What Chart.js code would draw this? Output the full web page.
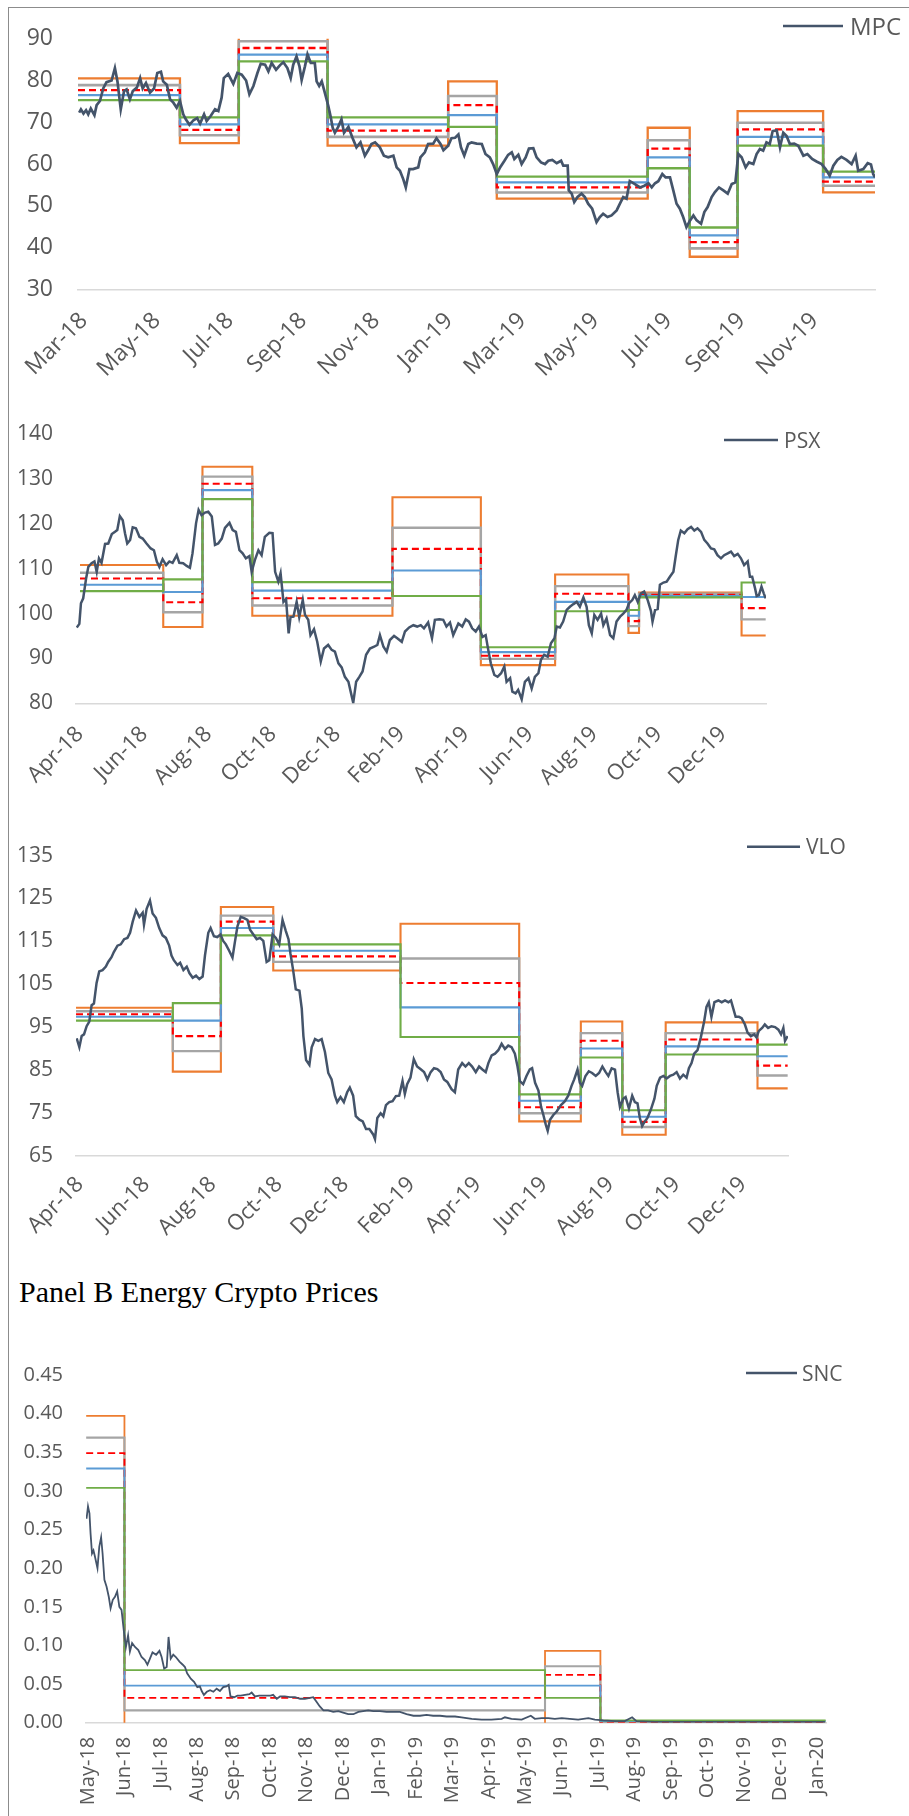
<!DOCTYPE html>
<html>
<head>
<meta charset="utf-8">
<script src="https://cdn.jsdelivr.net/npm/chart.js@4.4.1/dist/chart.umd.min.js"></script>
<style>
body { margin: 0; background: #fff; }
#page { position: relative; width: 909px; height: 1816px; overflow: hidden; background: #fff; }
#frame { position: absolute; left: 8px; top: 7px; width: 940px; height: 1850px; border-left: 1px solid #8c8c8c; border-top: 1px solid #8c8c8c; }
canvas { position: absolute; left: 0; }
#title { position: absolute; left: 19px; top: 1275px; font-family: "Liberation Serif", "Times New Roman", serif; font-size: 30px; line-height: 34px; color: #000; white-space: nowrap; }
</style>
</head>
<body>
<div id="page">
  <div id="frame"></div>
  <canvas id="mpc" width="909" height="380" style="top:0px"></canvas>
  <canvas id="psx" width="909" height="410" style="top:380px"></canvas>
  <canvas id="vlo" width="909" height="440" style="top:820px"></canvas>
  <div id="title">Panel B Energy Crypto Prices</div>
  <canvas id="snc" width="909" height="486" style="top:1330px"></canvas>
</div>
<script>
// x values are months counted from Jan 2018 (2 = 1 Mar 2018)

// ---------- MPC ----------
const mpcPrice = [[1.87,72.3],[1.92,73.1],[1.99,72.1],[2.06,72.9],[2.12,71.9],[2.19,73.3],[2.29,71.7],[2.35,74.1],[2.44,75.1],[2.53,78.1],[2.62,79.6],[2.76,80.0],[2.85,83.0],[2.92,79.8],[3.01,73.1],[3.10,77.5],[3.17,77.9],[3.26,75.5],[3.34,77.5],[3.45,78.3],[3.54,80.6],[3.61,78.1],[3.70,79.4],[3.81,77.1],[3.92,78.1],[4.01,81.8],[4.11,82.1],[4.17,79.8],[4.27,79.0],[4.36,75.5],[4.45,74.7],[4.54,73.5],[4.63,75.1],[4.72,71.9],[4.79,70.7],[4.89,69.4],[5.00,70.5],[5.10,71.0],[5.18,69.7],[5.29,71.9],[5.36,70.3],[5.47,71.5],[5.59,73.1],[5.68,72.7],[5.77,75.9],[5.83,80.6],[5.95,81.6],[6.09,79.2],[6.20,81.8],[6.32,81.4],[6.44,80.0],[6.53,76.7],[6.64,78.7],[6.75,81.8],[6.84,84.0],[6.96,83.8],[7.05,82.2],[7.14,84.2],[7.26,82.6],[7.37,83.7],[7.46,84.4],[7.57,83.0],[7.66,80.6],[7.73,83.8],[7.82,85.8],[7.90,83.4],[7.96,80.1],[8.05,83.4],[8.12,86.3],[8.21,84.2],[8.32,84.2],[8.37,79.8],[8.44,78.7],[8.51,79.8],[8.57,77.9],[8.63,75.9],[8.69,73.9],[8.75,71.5],[8.81,68.7],[8.87,67.5],[8.96,68.9],[9.05,70.7],[9.12,67.5],[9.24,68.9],[9.35,66.3],[9.46,64.0],[9.57,65.2],[9.69,62.0],[9.78,63.3],[9.87,64.8],[9.97,65.2],[10.10,64.0],[10.21,62.0],[10.33,61.6],[10.47,62.0],[10.56,59.2],[10.65,58.4],[10.74,56.4],[10.81,54.4],[10.91,58.8],[11.01,58.8],[11.15,59.2],[11.21,61.6],[11.33,62.8],[11.42,64.8],[11.56,64.9],[11.65,66.2],[11.76,64.8],[11.84,63.3],[11.97,64.4],[12.06,66.2],
  [12.16,66.3],[12.25,67.1],[12.32,64.0],[12.41,62.0],[12.52,64.8],[12.61,65.2],[12.75,64.9],[12.89,64.8],[12.99,62.4],[13.11,61.6],[13.20,60.0],[13.30,57.6],[13.39,59.2],[13.51,60.8],[13.61,62.2],[13.71,62.8],[13.78,61.2],[13.89,62.2],[13.98,60.0],[14.09,61.6],[14.18,63.7],[14.30,63.8],[14.39,61.6],[14.51,60.4],[14.62,60.0],[14.71,60.8],[14.82,61.0],[14.94,60.2],[15.06,60.8],[15.12,59.6],[15.24,59.6],[15.27,53.7],[15.35,52.9],[15.42,50.9],[15.51,52.1],[15.62,52.9],[15.71,52.1],[15.80,50.5],[15.91,49.3],[16.03,46.1],[16.12,47.3],[16.21,48.1],[16.33,47.3],[16.44,47.7],[16.58,48.9],[16.67,50.5],[16.76,52.1],[16.85,51.7],[16.94,55.9],[17.08,55.2],[17.22,54.4],[17.34,54.8],[17.45,55.4],[17.54,54.4],[17.63,55.4],[17.72,55.9],[17.83,57.6],[17.92,56.8],[18.04,56.8],[18.13,53.7],[18.22,50.5],[18.31,49.3],[18.40,47.3],[18.49,44.9],[18.59,46.5],[18.68,47.7],[18.77,46.5],[18.89,45.7],[18.98,48.5],[19.07,49.7],[19.18,52.1],[19.27,53.3],[19.38,54.4],[19.50,53.7],[19.62,52.9],[19.73,55.2],[19.83,55.6],[19.91,62.4],[20.00,61.6],[20.11,59.2],[20.20,60.4],[20.32,60.0],[20.41,62.4],[20.50,63.6],[20.59,63.2],[20.68,65.2],[20.77,64.8],[20.85,67.9],[20.96,68.1],[21.05,64.0],[21.14,67.5],[21.23,66.7],[21.32,64.8],[21.44,64.9],[21.55,64.4],[21.69,62.0],[21.80,62.4],[21.93,61.2],[22.05,60.6],[22.19,60.0],[22.30,58.8],[22.41,57.2],[22.51,59.6],[22.62,61.0],[22.73,61.7],[22.87,61.0],[23.01,60.0],[23.12,62.0],[23.19,58.4],[23.33,58.8],[23.45,60.2],[23.54,59.9],[23.60,57.6],[23.65,56.8]];
const mpcBreaks = [1.84, 4.63, 6.24, 8.67, 11.97, 13.30, 17.43, 18.58, 19.89, 22.23, 23.65];
const mpcOrange = [80.5, 65.0, 91.3, 64.4, 79.8, 51.7, 68.7, 37.8, 72.7, 53.2];
const mpcGray   = [78.9, 66.9, 89.4, 66.5, 76.3, 53.2, 65.7, 39.8, 69.9, 54.8];
const mpcRed    = [77.7, 68.2, 87.8, 68.0, 74.1, 54.4, 63.7, 41.3, 68.3, 55.8];
const mpcBlue   = [76.5, 69.5, 86.2, 69.5, 71.7, 55.6, 61.6, 42.9, 66.5, 56.8];
const mpcGreen  = [75.3, 71.2, 84.6, 71.2, 68.9, 57.0, 59.0, 44.8, 64.4, 58.2];
const mpcTickPos = [2, 4, 6, 8, 10, 12, 14, 16, 18, 20, 22];
const mpcTickLabels = ['Mar-18','May-18','Jul-18','Sep-18','Nov-18','Jan-19','Mar-19','May-19','Jul-19','Sep-19','Nov-19'];
const mpcYTicks = [30, 40, 50, 60, 70, 80, 90];

// ---------- PSX ----------
const psxPrice = [[2.90,96.9],[2.98,97.7],[3.03,102.3],[3.10,103.4],[3.19,107.8],[3.26,110.4],[3.36,111.2],[3.45,111.6],[3.52,109.3],[3.59,112.3],[3.67,111.3],[3.78,115.5],[3.88,115.6],[3.99,117.7],[4.09,118.2],[4.16,118.6],[4.24,121.7],[4.33,120.8],[4.40,117.9],[4.47,115.6],[4.56,116.4],[4.64,119.2],[4.74,119.0],[4.85,117.1],[4.95,116.7],[5.07,115.6],[5.20,114.5],[5.30,114.1],[5.39,111.6],[5.47,110.4],[5.57,112.1],[5.68,110.8],[5.78,111.6],[5.88,111.3],[6.01,113.0],[6.09,111.3],[6.21,111.2],[6.32,110.6],[6.42,110.2],[6.50,113.4],[6.61,120.1],[6.69,123.1],[6.78,121.9],[6.89,122.5],[6.99,122.7],[7.10,121.6],[7.20,115.3],[7.30,115.6],[7.41,116.7],[7.51,119.1],[7.65,120.2],[7.75,118.6],[7.85,118.2],[7.96,114.1],[8.06,113.4],[8.16,112.3],[8.27,112.8],[8.34,109.3],[8.44,111.9],[8.55,114.1],[8.65,113.0],[8.75,117.1],[8.89,118.0],[8.99,117.9],[9.07,109.3],[9.17,107.1],[9.24,109.0],[9.33,102.6],[9.41,103.2],[9.49,95.6],[9.55,99.2],[9.64,99.3],[9.74,102.6],[9.82,99.2],[9.93,103.0],[10.00,99.7],[10.10,98.6],[10.17,95.2],[10.28,96.5],[10.38,93.7],[10.49,89.3],[10.59,92.2],[10.72,93.0],[10.83,91.9],[10.93,91.5],[11.04,88.9],[11.14,88.0],[11.24,85.9],[11.35,84.8],[11.42,82.6],[11.50,80.1],[11.59,84.8],[11.69,85.9],[11.79,87.1],[11.90,90.8],[12.02,92.2],[12.15,92.6],[12.25,93.0],[12.33,95.2],[12.44,92.6],[12.54,91.5],[12.64,94.1],[12.77,95.0],[12.87,94.5],[13.01,93.7],[13.11,96.0],[13.24,96.9],[13.37,97.4],[13.49,97.1],[13.60,97.4],[13.70,96.7],[13.83,98.0],[13.95,94.5],[14.04,98.6],[14.18,98.7],[14.30,98.6],[14.40,97.1],[14.51,98.0],[14.61,95.2],
  [14.77,97.8],[14.89,97.1],[15.00,98.7],[15.10,98.2],[15.20,96.7],[15.31,96.0],[15.41,97.1],[15.52,94.8],[15.62,95.2],[15.70,91.9],[15.78,88.9],[15.89,86.3],[15.99,85.9],[16.10,86.7],[16.20,88.2],[16.27,84.8],[16.38,85.6],[16.45,82.6],[16.55,82.2],[16.63,83.0],[16.74,80.9],[16.84,84.8],[16.95,85.6],[17.05,83.3],[17.15,85.9],[17.26,86.7],[17.34,89.7],[17.44,90.8],[17.55,90.4],[17.65,93.4],[17.76,94.5],[17.83,97.1],[17.93,96.9],[18.03,98.2],[18.14,100.8],[18.24,101.5],[18.35,102.1],[18.45,102.6],[18.55,101.5],[18.66,103.6],[18.76,101.5],[18.83,97.4],[18.92,95.6],[19.00,99.7],[19.10,98.6],[19.21,100.0],[19.28,97.4],[19.38,98.9],[19.49,95.2],[19.59,94.5],[19.69,98.2],[19.80,99.3],[19.90,100.0],[20.00,100.8],[20.08,102.3],[20.18,103.0],[20.26,104.1],[20.35,102.6],[20.45,104.5],[20.55,104.9],[20.66,103.0],[20.76,100.6],[20.81,98.2],[20.89,100.8],[20.97,101.0],[21.04,106.4],[21.15,106.9],[21.25,107.1],[21.35,108.2],[21.46,109.3],[21.53,112.7],[21.61,116.4],[21.69,118.5],[21.80,117.9],[21.90,118.8],[22.01,119.3],[22.11,118.5],[22.21,119.0],[22.32,118.2],[22.42,116.4],[22.52,115.6],[22.63,114.5],[22.73,114.3],[22.83,113.0],[22.94,112.3],[23.04,113.0],[23.15,113.4],[23.25,113.8],[23.35,112.8],[23.46,113.3],[23.56,112.3],[23.66,110.8],[23.77,111.6],[23.84,108.2],[23.91,108.2],[24.00,105.6],[24.05,103.9],[24.12,104.1],[24.20,106.0],[24.27,104.5],[24.33,103.4]];
const psxBreaks = [3.00, 5.59, 6.81, 8.36, 12.72, 15.47, 17.78, 20.06, 20.39, 23.58, 24.33];
const psxOrange = [110.8, 97.0, 132.7, 99.5, 125.9, 88.5, 108.7, 95.7, 104.7, 95.1];
const psxGray   = [109.1, 100.3, 130.5, 101.8, 119.1, 89.9, 106.1, 97.2, 104.4, 98.7];
const psxRed    = [107.8, 102.5, 128.9, 103.4, 114.4, 90.6, 104.4, 98.3, 104.2, 101.2];
const psxBlue   = [106.4, 104.8, 127.5, 105.1, 109.6, 91.4, 102.6, 99.5, 103.9, 103.7];
const psxGreen  = [105.0, 107.6, 125.5, 107.0, 103.9, 92.5, 100.5, 100.8, 103.6, 106.9];
const psxTickPos = [3, 5, 7, 9, 11, 13, 15, 17, 19, 21, 23];
const psxTickLabels = ['Apr-18','Jun-18','Aug-18','Oct-18','Dec-18','Feb-19','Apr-19','Jun-19','Aug-19','Oct-19','Dec-19'];
const psxYTicks = [80, 90, 100, 110, 120, 130, 140];

// ---------- VLO ----------
const vloPrice = [[2.90,92.4],[2.98,90.3],[3.05,92.9],[3.12,93.3],[3.20,95.2],[3.28,96.3],[3.35,100.1],[3.42,100.5],[3.50,105.3],[3.58,108.0],[3.68,108.3],[3.78,109.1],[3.85,110.2],[3.95,111.3],[4.02,112.5],[4.13,114.0],[4.23,114.3],[4.33,115.5],[4.43,115.8],[4.51,117.0],[4.59,119.6],[4.69,122.2],[4.79,120.7],[4.89,121.7],[4.93,118.9],[5.01,122.6],[5.11,124.5],[5.19,121.5],[5.29,120.5],[5.39,118.1],[5.49,116.4],[5.59,115.8],[5.69,114.0],[5.76,111.7],[5.83,110.6],[5.94,109.5],[6.02,110.0],[6.12,108.3],[6.22,109.1],[6.30,107.6],[6.40,106.5],[6.50,107.0],[6.60,106.2],[6.70,106.8],[6.77,111.7],[6.87,117.0],[6.94,118.1],[7.04,116.2],[7.14,116.0],[7.24,116.6],[7.32,115.1],[7.40,114.3],[7.50,112.8],[7.60,111.2],[7.67,114.7],[7.75,118.5],[7.85,120.7],[7.95,120.4],[8.05,120.0],[8.13,117.7],[8.23,116.6],[8.33,115.5],[8.43,115.8],[8.53,115.1],[8.63,110.2],[8.71,110.6],[8.81,116.6],[8.91,115.8],[9.01,114.3],[9.11,120.0],[9.21,117.4],[9.29,115.5],[9.35,112.1],[9.43,108.3],[9.51,103.8],[9.62,103.5],[9.69,99.3],[9.74,92.9],[9.82,87.3],[9.92,86.2],[9.99,90.3],[10.09,92.2],[10.19,91.8],[10.29,92.2],[10.39,89.2],[10.49,84.3],[10.59,82.8],[10.69,79.0],[10.76,77.5],[10.86,78.7],[10.96,77.5],[11.06,79.8],[11.14,80.9],[11.24,79.0],[11.32,74.2],[11.43,73.4],[11.53,73.0],[11.63,71.2],[11.73,71.2],[11.85,69.9],[11.90,68.9],[11.97,73.8],[12.07,74.9],[12.15,74.2],[12.23,76.8],[12.33,77.5],[12.43,77.7],[12.53,78.9],[12.63,79.0],[12.73,82.4],[12.80,79.4],[12.87,81.7],[12.97,83.2],[13.07,87.5],[13.17,85.8],[13.27,85.2],[13.38,84.5],[13.48,82.8],[13.58,84.5],[13.68,85.4],[13.78,85.2],[13.88,84.5],[13.98,82.8],[14.08,82.2],[14.21,80.5],[14.31,79.8],
  [14.41,85.1],[14.53,86.6],[14.63,85.8],[14.73,86.6],[14.83,85.8],[14.94,84.5],[15.04,85.8],[15.14,85.1],[15.24,84.5],[15.32,86.6],[15.42,88.4],[15.52,88.8],[15.62,89.6],[15.72,91.1],[15.82,89.9],[15.92,90.7],[16.02,90.3],[16.12,88.8],[16.20,85.8],[16.27,82.4],[16.37,81.7],[16.47,83.6],[16.57,85.1],[16.64,85.4],[16.73,82.0],[16.83,80.2],[16.91,76.4],[16.98,74.5],[17.05,72.3],[17.11,70.8],[17.18,73.4],[17.28,74.5],[17.38,75.3],[17.51,76.8],[17.63,77.7],[17.73,79.0],[17.83,81.3],[17.91,82.8],[18.01,85.1],[18.08,82.0],[18.15,81.3],[18.25,83.6],[18.35,84.7],[18.45,84.3],[18.56,83.6],[18.66,84.3],[18.76,85.8],[18.86,84.5],[18.94,83.6],[19.04,85.4],[19.14,85.1],[19.22,79.8],[19.29,76.4],[19.39,78.3],[19.46,78.7],[19.56,76.0],[19.66,79.0],[19.74,77.5],[19.82,77.2],[19.89,73.8],[19.96,71.9],[20.04,73.0],[20.12,73.8],[20.22,75.7],[20.33,78.3],[20.40,81.3],[20.50,83.2],[20.60,83.6],[20.70,83.0],[20.80,83.6],[20.90,83.9],[21.00,84.5],[21.10,83.0],[21.20,83.9],[21.30,83.2],[21.37,85.4],[21.45,86.6],[21.53,88.8],[21.63,89.6],[21.73,92.6],[21.83,96.3],[21.90,99.7],[21.97,100.8],[22.05,97.4],[22.14,100.8],[22.26,101.2],[22.36,100.8],[22.46,101.2],[22.56,100.8],[22.64,101.2],[22.71,99.3],[22.78,97.4],[22.88,97.4],[22.96,97.1],[23.06,95.6],[23.14,93.7],[23.24,92.9],[23.34,93.3],[23.41,92.6],[23.48,94.1],[23.58,94.8],[23.66,95.6],[23.76,94.8],[23.86,95.2],[23.97,95.0],[24.07,94.4],[24.15,93.3],[24.22,94.8],[24.27,91.8],[24.35,92.9]];
const vloBreaks = [2.88, 5.80, 7.25, 8.83, 12.67, 16.25, 18.11, 19.36, 20.67, 23.44, 24.35];
const vloOrange = [99.5, 84.6, 123.0, 108.2, 119.1, 73.0, 96.3, 69.9, 96.1, 80.7];
const vloGray   = [98.7, 89.4, 121.0, 110.2, 111.0, 74.9, 93.6, 71.7, 93.6, 83.7];
const vloRed    = [98.0, 92.9, 119.6, 111.5, 105.3, 76.3, 91.8, 72.9, 92.1, 86.0];
const vloBlue   = [97.4, 96.5, 118.1, 112.8, 99.6, 77.8, 90.0, 74.1, 90.5, 88.2];
const vloGreen  = [96.5, 100.6, 116.4, 114.3, 92.7, 79.3, 87.9, 75.6, 88.6, 90.9];
const vloTickPos = psxTickPos;
const vloTickLabels = psxTickLabels;
const vloYTicks = [65, 75, 85, 95, 105, 115, 125, 135];

// ---------- SNC ----------
const sncPrice = [[3.96,0.264],[4.00,0.280],[4.04,0.271],[4.07,0.245],[4.11,0.219],[4.15,0.223],[4.19,0.215],[4.26,0.200],[4.31,0.228],[4.36,0.240],[4.40,0.219],[4.45,0.185],[4.51,0.176],[4.57,0.163],[4.62,0.148],[4.68,0.159],[4.74,0.163],[4.80,0.170],[4.86,0.150],[4.92,0.146],[4.99,0.116],[5.04,0.098],[5.10,0.113],[5.15,0.092],[5.21,0.103],[5.29,0.098],[5.38,0.094],[5.47,0.085],[5.56,0.081],[5.63,0.075],[5.70,0.083],[5.77,0.091],[5.87,0.088],[5.96,0.093],[6.02,0.085],[6.09,0.070],[6.16,0.072],[6.21,0.111],[6.27,0.083],[6.34,0.088],[6.41,0.085],[6.51,0.079],[6.60,0.075],[6.66,0.072],[6.72,0.064],[6.82,0.057],[6.91,0.053],[7.00,0.046],[7.07,0.047],[7.12,0.041],[7.18,0.036],[7.26,0.040],[7.35,0.042],[7.44,0.040],[7.53,0.044],[7.62,0.041],[7.71,0.046],[7.80,0.047],[7.86,0.049],[7.91,0.034],[8.01,0.033],[8.10,0.035],[8.19,0.035],[8.31,0.036],[8.43,0.037],[8.49,0.039],[8.58,0.034],[8.70,0.035],[8.81,0.035],[8.90,0.035],[9.01,0.035],[9.08,0.036],[9.18,0.031],[9.27,0.034],[9.40,0.034],[9.54,0.033],[9.68,0.033],[9.82,0.031],[9.95,0.031],[10.09,0.032],[10.18,0.033],[10.27,0.027],[10.36,0.021],[10.46,0.016],[10.59,0.016],[10.73,0.014],[10.87,0.015],[11.00,0.013],[11.14,0.011],[11.28,0.011],[11.42,0.014],[11.55,0.015],[11.69,0.016],[11.83,0.015],[12.01,0.015],[12.19,0.014],[12.38,0.014],[12.56,0.014],[12.74,0.011],[12.93,0.009],[13.11,0.009],[13.29,0.010],[13.47,0.009],[13.66,0.009],[13.84,0.008],[14.07,0.008],[14.25,0.007],[14.53,0.005],[14.80,0.004],[15.07,0.004],[15.35,0.005],[15.44,0.007],[15.62,0.005],[15.90,0.004],[16.15,0.009],[16.26,0.005],[16.45,0.006],[16.63,0.006],[16.81,0.005],[17.00,0.006],[17.22,0.005],[17.45,0.004],[17.73,0.006],[17.91,0.004],[18.14,0.003],[18.46,0.002],[18.73,0.002],[18.93,0.007],[19.05,0.002],[19.56,0.001],[20.47,0.001],[21.38,0.001],[22.30,0.001],[23.21,0.001],[24.22,0.001]];
const sncBreaks = [3.95, 5.00, 16.54, 18.06, 24.24];
const sncOrange = [0.397, -0.010, 0.093, -0.001];
const sncGray   = [0.369, 0.016, 0.073, 0.001];
const sncRed    = [0.349, 0.032, 0.062, 0.001];
const sncBlue   = [0.329, 0.048, 0.048, 0.002];
const sncGreen  = [0.304, 0.068, 0.032, 0.003];
const sncTickPos = [4,5,6,7,8,9,10,11,12,13,14,15,16,17,18,19,20,21,22,23,24];
const sncTickLabels = ['May-18','Jun-18','Jul-18','Aug-18','Sep-18','Oct-18','Nov-18','Dec-18','Jan-19','Feb-19','Mar-19','Apr-19','May-19','Jun-19','Jul-19','Aug-19','Sep-19','Oct-19','Nov-19','Dec-19','Jan-20'];
const sncYTicks = [0, 0.05, 0.10, 0.15, 0.20, 0.25, 0.30, 0.35, 0.40, 0.45];

Chart.defaults.font.family = "'Open Sans', sans-serif";
Chart.defaults.color = '#595959';

// step line for a band: one flat piece per block, vertical jump at each break
function steps(breaks, levels) {
  const pts = [];
  levels.forEach((v, i) => {
    pts.push({x: breaks[i], y: v}, {x: breaks[i + 1], y: v});
  });
  return pts;
}

// only the price series is in the legend, drawn as in Excel
const legendLine = {
  id: 'legendLine',
  afterDraw(chart, args, o) {
    const ctx = chart.ctx;
    ctx.save();
    ctx.strokeStyle = '#44546A';
    ctx.lineWidth = 2.5;
    ctx.beginPath();
    ctx.moveTo(o.x1, o.y);
    ctx.lineTo(o.x2, o.y);
    ctx.stroke();
    ctx.fillStyle = '#595959';
    ctx.font = o.size + "px 'Open Sans'";
    ctx.textBaseline = 'alphabetic';
    ctx.fillText(o.text, o.x2 + o.gap, o.base);
    ctx.restore();
  }
};

function makePanel(id, p) {
  const bw = p.bandWidth;
  const datasets = [
    {label: p.name, data: p.price.map(d => ({x: d[0], y: d[1]})), borderColor: '#44546A', borderWidth: p.priceWidth},
    {label: 'green', data: steps(p.breaks, p.green), borderColor: '#70AD47', borderWidth: bw},
    {label: 'blue', data: steps(p.breaks, p.blue), borderColor: '#5B9BD5', borderWidth: bw},
    {label: 'red', data: steps(p.breaks, p.red), borderColor: '#FF0000', borderWidth: bw, borderDash: [7, 4]},
    {label: 'gray', data: steps(p.breaks, p.gray), borderColor: '#A5A5A5', borderWidth: bw + 0.3},
    {label: 'orange', data: steps(p.breaks, p.orange), borderColor: '#ED7D31', borderWidth: bw}
  ];
  datasets.forEach(d => { d.pointRadius = 0; d.tension = 0; d.fill = false; });

  const canvas = document.getElementById(id);
  new Chart(canvas, {
    type: 'line',
    data: {datasets: datasets},
    options: {
      responsive: false,
      animation: false,
      devicePixelRatio: 1,
      layout: {padding: {top: p.top, right: p.right, left: 0, bottom: 0}},
      scales: {
        x: {
          type: 'linear',
          min: p.xMin,
          max: p.xMax,
          afterBuildTicks: s => { s.ticks = p.tickPos.map(v => ({value: v})); },
          afterFit: s => { s.height = canvas.height - p.bottom; },
          ticks: {
            autoSkip: false,
            minRotation: p.rot,
            maxRotation: p.rot,
            padding: p.xPad,
            font: {size: p.xFont},
            callback: (v, i) => p.tickLabels[i]
          },
          grid: {display: false, drawTicks: false},
          border: {display: true, color: '#D9D9D9', width: 1.5}
        },
        y: {
          min: p.yMin,
          max: p.yMax,
          afterBuildTicks: s => { s.ticks = p.yTicks.map(v => ({value: v})); },
          afterFit: s => { s.width = p.left; },
          ticks: {
            padding: p.yPad,
            font: {size: p.yFont},
            callback: v => p.yDec ? v.toFixed(p.yDec) : v
          },
          grid: {display: false, drawTicks: false},
          border: {display: false}
        }
      },
      plugins: {
        legend: {display: false},
        tooltip: {enabled: false},
        legendLine: p.legend
      }
    },
    plugins: [legendLine]
  });
}

makePanel('mpc', {
  name: 'MPC', price: mpcPrice, breaks: mpcBreaks,
  orange: mpcOrange, gray: mpcGray, red: mpcRed, blue: mpcBlue, green: mpcGreen,
  tickPos: mpcTickPos, tickLabels: mpcTickLabels, yTicks: mpcYTicks,
  xMin: 1.84, xMax: 23.65, yMin: 30, yMax: 90,
  top: 36.7, bottom: 289.3, left: 78, right: 34,
  rot: 45, xPad: 18, yPad: 25, xFont: 23, yFont: 23,
  priceWidth: 2.7, bandWidth: 2.3,
  legend: {text: 'MPC', x1: 783, x2: 843, y: 26, base: 35, gap: 7, size: 24}
});

makePanel('psx', {
  name: 'PSX', price: psxPrice, breaks: psxBreaks,
  orange: psxOrange, gray: psxGray, red: psxRed, blue: psxBlue, green: psxGreen,
  tickPos: psxTickPos, tickLabels: psxTickLabels, yTicks: psxYTicks,
  xMin: 2.876, xMax: 24.34, yMin: 80, yMax: 140,
  top: 54, bottom: 323.3, left: 76, right: 143,
  rot: 45, xPad: 18, yPad: 23, xFont: 22, yFont: 21,
  priceWidth: 2.5, bandWidth: 2.1,
  legend: {text: 'PSX', x1: 724, x2: 778, y: 60, base: 67.5, gap: 6, size: 21}
});

makePanel('vlo', {
  name: 'VLO', price: vloPrice, breaks: vloBreaks,
  orange: vloOrange, gray: vloGray, red: vloRed, blue: vloBlue, green: vloGreen,
  tickPos: vloTickPos, tickLabels: vloTickLabels, yTicks: vloYTicks,
  xMin: 2.879, xMax: 24.36, yMin: 65, yMax: 135,
  top: 25, bottom: 335.7, left: 76, right: 121,
  rot: 45, xPad: 16, yPad: 23, xFont: 22, yFont: 21,
  priceWidth: 2.5, bandWidth: 2.1,
  legend: {text: 'VLO', x1: 747, x2: 800, y: 26.7, base: 34.2, gap: 6, size: 21}
});

makePanel('snc', {
  name: 'SNC', price: sncPrice, breaks: sncBreaks,
  orange: sncOrange, gray: sncGray, red: sncRed, blue: sncBlue, green: sncGreen,
  tickPos: sncTickPos, tickLabels: sncTickLabels, yTicks: sncYTicks, yDec: 2,
  xMin: 3.945, xMax: 24.25, yMin: 0, yMax: 0.45,
  top: 45, bottom: 392.7, left: 86, right: 83,
  rot: 90, xPad: 14, yPad: 23, xFont: 20, yFont: 20,
  priceWidth: 1.8, bandWidth: 1.8,
  legend: {text: 'SNC', x1: 746, x2: 797, y: 43, base: 50.5, gap: 5, size: 21}
});
</script>
</body>
</html>
